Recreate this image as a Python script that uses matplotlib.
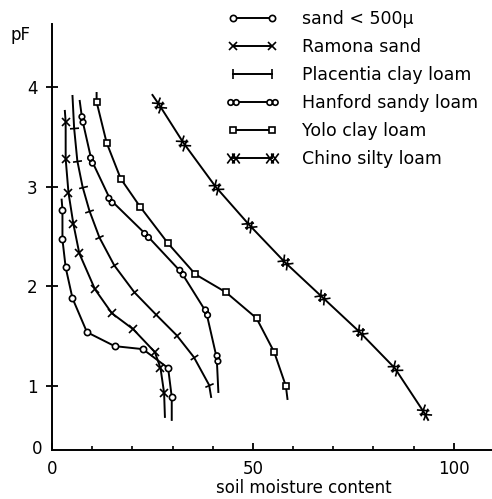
import numpy as np
import matplotlib
matplotlib.use('Agg')
import matplotlib.pyplot as plt
from matplotlib.lines import Line2D
from matplotlib.legend_handler import HandlerLine2D
from matplotlib.markers import MarkerStyle
from matplotlib.path import Path
from matplotlib.transforms import Affine2D

# soil moisture content vs pF, first and last points are the curve ends
sand_x = [2.4, 2.6, 2.6, 3.4, 5.1, 8.7, 15.6, 22.6, 28.9, 29.8, 29.8]
sand_y = [2.87, 2.77, 2.47, 2.19, 1.88, 1.54, 1.40, 1.37, 1.18, 0.89, 0.66]

ramona_x = [3.2, 3.4, 3.4, 4.1, 5.3, 6.8, 10.7, 14.9, 20.2, 25.6, 27.0, 27.9, 28.1]
ramona_y = [3.76, 3.65, 3.28, 2.94, 2.63, 2.33, 1.97, 1.73, 1.57, 1.34, 1.18, 0.93, 0.69]

placentia_x = [5.1, 5.5, 6.3, 7.6, 9.3, 11.8, 15.5, 20.5, 25.8, 31.0, 35.3, 39.1, 39.6]
placentia_y = [3.91, 3.59, 3.26, 3.00, 2.76, 2.49, 2.21, 1.94, 1.72, 1.51, 1.29, 1.01, 0.89]

hanford_x = [6.9, 7.5, 9.8, 14.5, 23.4, 32.2, 38.4, 41.0, 41.4]
hanford_y = [3.86, 3.68, 3.27, 2.87, 2.52, 2.14, 1.74, 1.28, 0.94]

yolo_x = [11.1, 11.1, 13.6, 17.1, 21.9, 28.9, 35.7, 43.3, 50.9, 55.3, 58.2, 58.6]
yolo_y = [3.94, 3.85, 3.44, 3.08, 2.80, 2.43, 2.12, 1.94, 1.68, 1.34, 1.00, 0.87]

chino_x = [25.0, 26.7, 32.7, 40.7, 49.0, 58.0, 67.3, 76.6, 85.3, 92.5, 93.6]
chino_y = [3.92, 3.82, 3.44, 3.00, 2.62, 2.24, 1.89, 1.54, 1.18, 0.74, 0.66]

labels = ["sand < 500μ", "Ramona sand", "Placentia clay loam",
          "Hanford sandy loam", "Yolo clay loam", "Chino silty loam"]

# marker shapes that follow the curve direction
tick_path = Path([(0, -1), (0, 1)], [Path.MOVETO, Path.LINETO])
rings_path = Path.make_compound_path(Path.circle((-1, 0), 1), Path.circle((1, 0), 1))
cv, cc = [], []
for c in (-0.5, 0.5):
    cv += [(c - 0.75, -1), (c + 0.75, 1), (c - 0.75, 1), (c + 0.75, -1)]
    cc += [Path.MOVETO, Path.LINETO, Path.MOVETO, Path.LINETO]
crosses_path = Path(cv, cc)

series = [
    (sand_x, sand_y, dict(marker='o', ms=4.5, mfc='white'), False),
    (ramona_x, ramona_y, dict(marker='x', ms=5.5, mfc='none'), False),
    (placentia_x, placentia_y, dict(marker=tick_path, ms=6.5, mfc='none'), True),
    (hanford_x, hanford_y, dict(marker=rings_path, ms=8, mfc='white'), True),
    (yolo_x, yolo_y, dict(marker='s', ms=5, mfc='white'), False),
    (chino_x, chino_y, dict(marker=crosses_path, ms=9, mfc='none'), True),
]

fig = plt.figure(figsize=(4.92, 4.99), dpi=100)
ax = fig.add_axes([52 / 492, 49 / 499, 440 / 492, 426 / 499])
ax.set_xlim(0, 109.5)
ax.set_ylim(0.358, 4.632)

for s in ('top', 'right'):
    ax.spines[s].set_visible(False)
for s in ('left', 'bottom'):
    ax.spines[s].set_linewidth(1.4)

lw = 1.4
handles = []
for x, y, mk, rotate in series:
    x = np.asarray(x)
    y = np.asarray(y)
    ax.plot(x, y, color='black', lw=lw, zorder=2)
    if rotate:
        pts = ax.transData.transform(np.column_stack([x, y]))
        for i in range(1, len(x) - 1):
            d = pts[i + 1] - pts[i - 1]
            ang = np.degrees(np.arctan2(d[1], d[0]))
            m = MarkerStyle(mk['marker'], transform=Affine2D().rotate_deg(ang))
            ax.plot(x[i], y[i], ls='none', marker=m, ms=mk['ms'], mfc=mk['mfc'],
                    mec='black', mew=1.2, zorder=3)
    else:
        ax.plot(x[1:-1], y[1:-1], ls='none', marker=mk['marker'], ms=mk['ms'],
                mfc=mk['mfc'], mec='black', mew=1.2, zorder=3)
    handles.append(Line2D([], [], color='black', lw=lw, marker=mk['marker'],
                          ms=mk['ms'], mfc=mk['mfc'], mec='black', mew=1.2))

ax.set_xticks([0, 50, 100])
ax.set_xticks(np.arange(10, 110, 10), minor=True)
ax.tick_params(axis='x', which='major', direction='in', length=5, width=1.3,
               pad=7, labelsize=12)
ax.tick_params(axis='x', which='minor', direction='in', length=3, width=1.2)
ax.set_yticks([1, 2, 3, 4])
ax.tick_params(axis='y', direction='inout', length=9, width=1.3, pad=6, labelsize=12)
ax.annotate('0', xy=(0, 0), xycoords='axes fraction', xytext=(-15, 1),
            textcoords='offset pixels', ha='center', va='center', fontsize=12)

ax.set_xlabel('soil moisture content', fontsize=12, va='center')
ax.xaxis.set_label_coords(0.573, -0.089)
ax.set_ylabel('pF', fontsize=12, rotation=0, ha='center', va='center')
ax.yaxis.set_label_coords(-0.0705, 0.974)

fs = 12.5 * 100 / 72
ax.legend(handles, labels, loc='upper left', bbox_to_anchor=(219 / 492, 1 - 10 / 499),
          bbox_transform=fig.transFigure, frameon=False, fontsize=12.5,
          handlelength=67 / fs, handletextpad=16 / fs, labelspacing=0.58,
          borderpad=0, borderaxespad=0,
          handler_map={Line2D: HandlerLine2D(marker_pad=0.8, numpoints=2)})

fig.savefig('out.png', dpi=100)
